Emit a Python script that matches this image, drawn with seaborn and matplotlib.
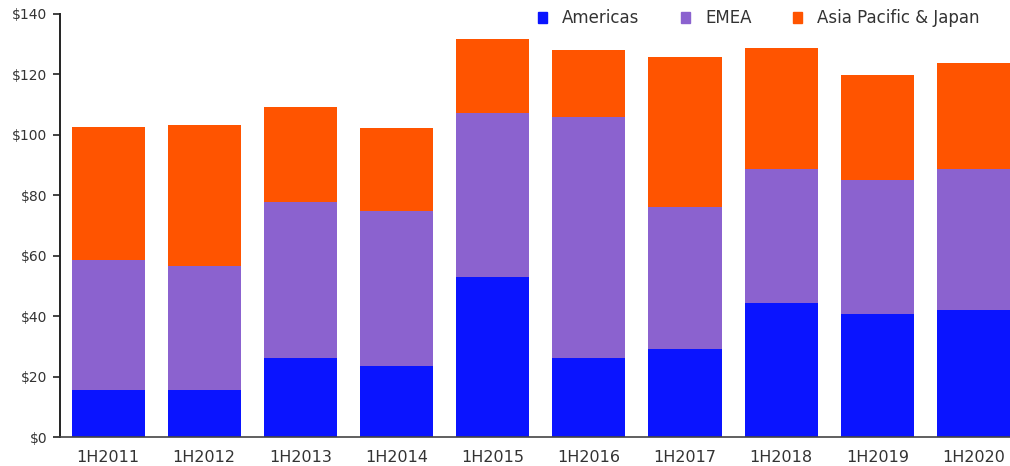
import pandas as pd
import numpy as np
import seaborn as sns
import matplotlib.pyplot as plt
from matplotlib.patches import Patch

periods = ["1H2011", "1H2012", "1H2013", "1H2014", "1H2015",
           "1H2016", "1H2017", "1H2018", "1H2019", "1H2020"]
americas = [15.6, 15.6, 26.2, 23.6, 53.0, 26.2, 29.2, 44.2, 40.6, 42.0]
emea = [42.9, 41.0, 51.5, 51.1, 54.3, 79.8, 46.8, 44.6, 44.5, 46.6]
apj = [44.2, 46.5, 31.6, 27.4, 24.5, 22.1, 49.6, 39.9, 34.7, 35.3]
yticks = [0, 20, 40, 60, 80, 100, 120, 140]

c_am = "#0A14FF"
c_em = "#8B62CF"
c_ap = "#FF5400"

df = pd.DataFrame({"period": periods, "Americas": americas,
                   "EMEA": emea, "Asia Pacific & Japan": apj})
df["lvl1"] = df["Americas"]
df["lvl2"] = df["lvl1"] + df["EMEA"]
df["lvl3"] = df["lvl2"] + df["Asia Pacific & Japan"]

sns.set_style("white")
plt.rcParams['font.family'] = ['DejaVu Sans']

fig = plt.figure(figsize=(10.1, 4.66), dpi=100)
ax = fig.add_axes([0.0594, 0.0622, 0.9406, 0.908])

# stacked bars: draw cumulative totals from the top down
for col, c in [("lvl3", c_ap), ("lvl2", c_em), ("lvl1", c_am)]:
    sns.barplot(data=df, x="period", y=col, color=c, saturation=1, width=0.76,
                linewidth=0, ax=ax)

ax.set_xlim(-0.5, 9.38)
ax.set_ylim(0, 140)
ax.set_yticks(yticks)
ax.set_yticklabels(["$%d" % t for t in yticks])
ax.set_xlabel("")
ax.set_ylabel("")

for s in ["top", "right"]:
    ax.spines[s].set_visible(False)
ax.spines["left"].set_color("#222222")
ax.spines["left"].set_linewidth(1.4)
ax.spines["bottom"].set_color("#444444")
ax.spines["bottom"].set_linewidth(1.2)

ax.tick_params(axis="y", left=True, length=5, width=1.2, color="#222222",
               labelsize=10, labelcolor="#333333", pad=4)
ax.tick_params(axis="x", bottom=False, labelsize=11.5, labelcolor="#333333", pad=6)

handles = [Patch(color=c_am, label="Americas"),
           Patch(color=c_em, label="EMEA"),
           Patch(color=c_ap, label="Asia Pacific & Japan")]
fig.legend(handles=handles, loc="upper right", bbox_to_anchor=(0.985, 1.012), ncol=3,
           frameon=False, fontsize=12, handlelength=0.55, handleheight=0.55,
           columnspacing=2.5, handletextpad=0.9, labelcolor="#333333")

fig.savefig("out.png", dpi=100)
